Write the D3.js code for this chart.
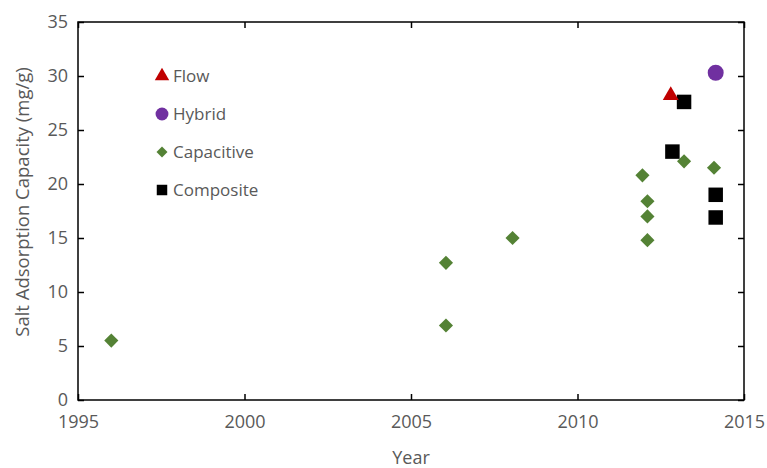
<!DOCTYPE html>
<html>
<head>
<meta charset="utf-8">
<script src="https://cdn.jsdelivr.net/npm/d3@7"></script>
<style>
  body { margin: 0; background: #fff; }
  svg text { font-family: "Open Sans", "Liberation Sans", sans-serif; fill: #595959; }
</style>
</head>
<body>
<svg id="chart" width="767" height="468"></svg>
<script>
// values
const flowYears = [2012.8]
const flowValues = [28.2]

const hybridYears = [2014.15]
const hybridValues = [30.3]

const capacitiveYears = [1996, 2006.05, 2006.05, 2008.05, 2011.95, 2012.1, 2012.1, 2012.1, 2013.2, 2014.1]
const capacitiveValues = [5.5, 12.7, 6.9, 15.0, 20.8, 18.4, 17.0, 14.8, 22.1, 21.5]

const compositeYears = [2012.85, 2013.2, 2014.15, 2014.15]
const compositeValues = [23.0, 27.6, 19.0, 16.9]

const xTicks = [1995, 2000, 2005, 2010, 2015]
const yTicks = [0, 5, 10, 15, 20, 25, 30, 35]

const seriesNames = ['Flow', 'Hybrid', 'Capacitive', 'Composite']

const width = 767, height = 468
const margin = { top: 22, right: 23, bottom: 68, left: 78 }

const svg = d3.select('#chart')

const x = d3.scaleLinear().domain([1995, 2015]).range([margin.left, width - margin.right])
const y = d3.scaleLinear().domain([0, 35]).range([height - margin.bottom, margin.top])

// frame
svg.append('rect')
  .attr('x', margin.left)
  .attr('y', margin.top)
  .attr('width', width - margin.left - margin.right)
  .attr('height', height - margin.top - margin.bottom)
  .attr('fill', 'none')
  .attr('stroke', '#000')
  .attr('stroke-width', 1.5)

// axes with inward ticks
const tickFont = 18

svg.append('g')
  .attr('transform', `translate(0,${height - margin.bottom})`)
  .call(d3.axisBottom(x).tickValues(xTicks).tickFormat(d3.format('d')).tickSizeInner(-6).tickSizeOuter(0).tickPadding(15))
  .call(g => g.select('.domain').remove())
  .call(g => g.selectAll('line').attr('stroke', '#000').attr('stroke-width', 1.5))
  .call(g => g.selectAll('text').attr('font-size', tickFont).attr('font-family', null))

svg.append('g')
  .attr('transform', `translate(${margin.left},0)`)
  .call(d3.axisLeft(y).tickValues(yTicks).tickSizeInner(-6).tickSizeOuter(0).tickPadding(10))
  .call(g => g.select('.domain').remove())
  .call(g => g.selectAll('line').attr('stroke', '#000').attr('stroke-width', 1.5))
  .call(g => g.selectAll('text').attr('font-size', tickFont).attr('font-family', null))

// ticks on top and right, no labels
svg.append('g')
  .attr('transform', `translate(0,${margin.top})`)
  .call(d3.axisTop(x).tickValues(xTicks).tickFormat('').tickSizeInner(-6).tickSizeOuter(0))
  .call(g => g.select('.domain').remove())
  .call(g => g.selectAll('line').attr('stroke', '#000').attr('stroke-width', 1.5))

svg.append('g')
  .attr('transform', `translate(${width - margin.right},0)`)
  .call(d3.axisRight(y).tickValues(yTicks).tickFormat('').tickSizeInner(-6).tickSizeOuter(0))
  .call(g => g.select('.domain').remove())
  .call(g => g.selectAll('line').attr('stroke', '#000').attr('stroke-width', 1.5))

// axis titles
svg.append('text')
  .attr('x', 411)
  .attr('y', 464)
  .attr('text-anchor', 'middle')
  .attr('font-size', 18)
  .text('Year')

svg.append('text')
  .attr('transform', 'translate(29,202) rotate(-90)')
  .attr('text-anchor', 'middle')
  .attr('font-size', 18.5)
  .text('Salt Adsorption Capacity (mg/g)')

// series
const series = [
  { name: seriesNames[0], xs: flowYears, ys: flowValues, symbol: d3.symbolTriangle, size: 110, color: '#C00000' },
  { name: seriesNames[1], xs: hybridYears, ys: hybridValues, symbol: d3.symbolCircle, size: 200, color: '#7030A0' },
  { name: seriesNames[2], xs: capacitiveYears, ys: capacitiveValues, symbol: d3.symbolSquare, size: 100, color: '#548235', rotate: 45 },
  { name: seriesNames[3], xs: compositeYears, ys: compositeValues, symbol: d3.symbolSquare, size: 210, color: '#000000' }
]

// draw capacitive first so composite/flow sit on top like the original
const drawOrder = [2, 3, 0, 1]
drawOrder.forEach(i => {
  const s = series[i]
  svg.append('g')
    .selectAll('path')
    .data(s.xs.map((d, j) => [d, s.ys[j]]))
    .enter()
    .append('path')
    .attr('d', d3.symbol().type(s.symbol).size(s.size))
    .attr('transform', d => `translate(${x(d[0])},${y(d[1])}) rotate(${s.rotate || 0})`)
    .attr('fill', s.color)
})

// legend
const legendSizes = [90, 130, 60, 110]
const legend = svg.append('g')
series.forEach((s, i) => {
  const ly = 76 + i * 38
  legend.append('path')
    .attr('d', d3.symbol().type(s.symbol).size(legendSizes[i]))
    .attr('transform', `translate(162,${ly}) rotate(${s.rotate || 0})`)
    .attr('fill', s.color)
  legend.append('text')
    .attr('x', 173)
    .attr('y', ly)
    .attr('dy', '0.35em')
    .attr('font-size', 17)
    .text(s.name)
})
</script>
</body>
</html>
